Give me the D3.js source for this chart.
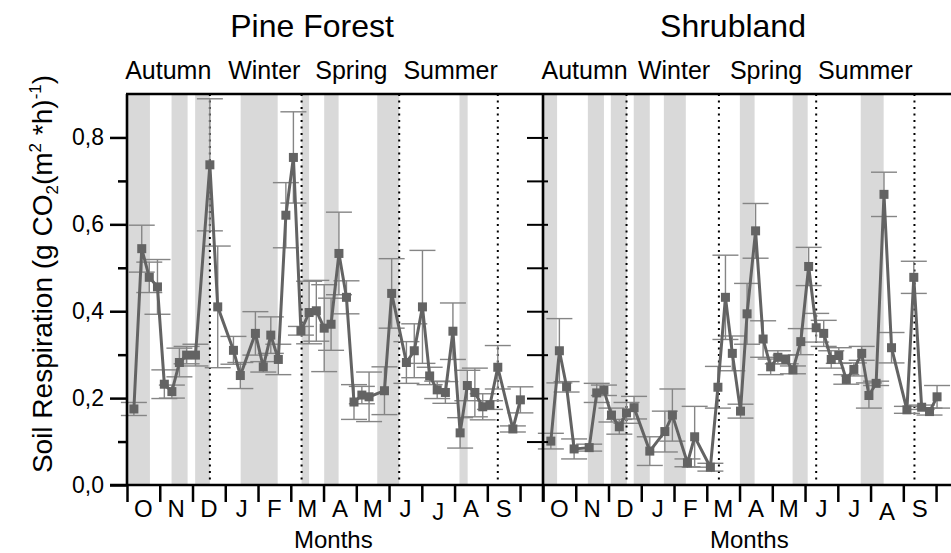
<!DOCTYPE html>
<html>
<head>
<meta charset="utf-8">
<script src="https://cdn.jsdelivr.net/npm/d3@7"></script>
<style>
  body { margin: 0; background: #fff; }
  svg { display: block; font-family: "Liberation Sans", Arial, sans-serif; }
</style>
</head>
<body>
<svg id="chart" width="951" height="553"></svg>
<script>
// Month labels along each panel (October to September)
const monthLabels = ["O", "N", "D", "J", "F", "M", "A", "M", "J", "J", "A", "S"];
const yMajorTicks = [0, 0.2, 0.4, 0.6, 0.8];
const seasonNames = ["Autumn", "Winter", "Spring", "Summer"];
const siteNames = ["Pine Forest", "Shrubland"];

// Sampling dates, expressed in months since 1 October
const pineMonth = [0.21, 0.45, 0.68, 0.93, 1.14, 1.37, 1.60, 1.82, 2.09, 2.53,
  2.77, 3.25, 3.46, 3.92, 4.16, 4.39, 4.62, 4.85, 5.08, 5.31,
  5.56, 5.78, 6.02, 6.23, 6.47, 6.70, 6.93, 7.17, 7.39, 7.86,
  8.08, 8.53, 8.77, 9.02, 9.24, 9.47, 9.72, 9.95, 10.17, 10.39,
  10.62, 10.86, 11.08, 11.32, 11.78, 12.01];
// Soil respiration, g CO2 m-2 h-1
const pineResp = [0.175, 0.544, 0.478, 0.456, 0.232, 0.215, 0.282, 0.299, 0.299, 0.737,
  0.410, 0.310, 0.252, 0.349, 0.272, 0.345, 0.289, 0.621, 0.754, 0.355,
  0.397, 0.401, 0.361, 0.370, 0.533, 0.432, 0.191, 0.207, 0.203, 0.217,
  0.441, 0.282, 0.309, 0.410, 0.251, 0.219, 0.213, 0.354, 0.120, 0.229,
  0.213, 0.180, 0.184, 0.271, 0.129, 0.196];
// Standard error of each mean
const pineErr = [0.015, 0.054, 0.035, 0.063, 0.033, 0.015, 0.033, 0.020, 0.025, 0.152,
  0.140, 0.032, 0.030, 0.050, 0.012, 0.042, 0.035, 0.075, 0.105, 0.010,
  0.072, 0.070, 0.100, 0.060, 0.095, 0.038, 0.040, 0.020, 0.057, 0.055,
  0.080, 0.048, 0.062, 0.130, 0.020, 0.020, 0.025, 0.065, 0.035, 0.035,
  0.056, 0.030, 0.010, 0.050, 0.007, 0.030];

const shrubMonth = [0.24, 0.50, 0.72, 0.95, 1.41, 1.64, 1.86, 2.09, 2.33, 2.55,
  2.78, 3.26, 3.72, 3.95, 4.41, 4.63, 5.11, 5.34, 5.57, 5.78,
  6.03, 6.23, 6.49, 6.72, 6.95, 7.17, 7.41, 7.63, 7.87, 8.11,
  8.34, 8.57, 8.80, 9.03, 9.26, 9.49, 9.73, 9.95, 10.17, 10.41,
  10.64, 11.11, 11.32, 11.56, 11.80, 12.03];
const shrubResp = [0.101, 0.309, 0.226, 0.083, 0.086, 0.212, 0.218, 0.161, 0.134, 0.166,
  0.178, 0.078, 0.123, 0.161, 0.051, 0.111, 0.041, 0.225, 0.432, 0.303,
  0.170, 0.394, 0.585, 0.336, 0.272, 0.294, 0.289, 0.265, 0.330, 0.503,
  0.362, 0.349, 0.289, 0.298, 0.243, 0.266, 0.303, 0.206, 0.234, 0.669,
  0.316, 0.173, 0.478, 0.179, 0.169, 0.203];
const shrubErr = [0.018, 0.074, 0.012, 0.023, 0.008, 0.022, 0.012, 0.016, 0.017, 0.024,
  0.026, 0.033, 0.047, 0.060, 0.009, 0.070, 0.009, 0.048, 0.097, 0.040,
  0.016, 0.070, 0.063, 0.042, 0.018, 0.015, 0.010, 0.009, 0.030, 0.044,
  0.033, 0.030, 0.020, 0.018, 0.011, 0.015, 0.016, 0.029, 0.005, 0.051,
  0.035, 0.008, 0.037, 0.005, 0.008, 0.026];

// Rain periods (start, end in months since 1 October)
const pineRain = [[0.0, 0.70], [1.36, 1.85], [2.08, 2.53], [3.47, 4.60], [5.33, 5.56],
  [6.02, 6.46], [7.64, 8.31], [10.15, 10.40]];
const shrubRain = [[0.0, 0.43], [1.37, 1.86], [2.07, 2.56], [2.77, 3.26], [3.69, 4.36],
  [6.01, 6.46], [7.62, 8.08], [9.70, 10.40]];

// Season boundaries and season label centres (months since 1 October)
const pineSeasonEdges = [2.53, 5.33, 8.31, 11.32];
const shrubSeasonEdges = [2.55, 5.37, 8.34, 11.34];
const pineSeasonCentre = [1.26, 4.19, 6.85, 9.88];
const shrubSeasonCentre = [1.27, 4.0, 6.81, 9.84];

const panels = [
  { name: siteNames[0], month: pineMonth, resp: pineResp, err: pineErr, rain: pineRain,
    edges: pineSeasonEdges, seasonAt: pineSeasonCentre, left: 127, titleAt: 5.65 },
  { name: siteNames[1], month: shrubMonth, resp: shrubResp, err: shrubErr, rain: shrubRain,
    edges: shrubSeasonEdges, seasonAt: shrubSeasonCentre, left: 543, titleAt: 5.8 }
];

const svg = d3.select("#chart");
const panelWidth = 416;
const monthSpan = 12.7;
const y = d3.scaleLinear().domain([0, 0.9]).range([485, 94]);
const fmt = d => d3.format(".1f")(d).replace(".", ",");

const markColor = "#636363";
const errColor = "#858585";

panels.forEach((p, pi) => {
  const x = d3.scaleLinear().domain([0, monthSpan]).range([p.left, p.left + panelWidth]);
  const g = svg.append("g");

  // rain shading
  g.selectAll("rect.rain").data(p.rain).join("rect")
    .attr("class", "rain")
    .attr("x", d => x(d[0]))
    .attr("width", d => x(d[1]) - x(d[0]))
    .attr("y", y(0.9))
    .attr("height", y(0) - y(0.9))
    .attr("fill", "#d9d9d9");

  // season boundaries
  g.selectAll("line.season").data(p.edges).join("line")
    .attr("class", "season")
    .attr("x1", d => x(d)).attr("x2", d => x(d))
    .attr("y1", y(0.9)).attr("y2", y(0))
    .attr("stroke", "#000").attr("stroke-width", 2)
    .attr("stroke-dasharray", "2,4.5");

  const pts = p.month.map((m, i) => ({ m, v: p.resp[i], e: p.err[i] }));

  // error bars
  const eb = g.selectAll("g.err").data(pts).join("g").attr("class", "err")
    .attr("stroke", errColor).attr("stroke-width", 1.4);
  eb.append("line")
    .attr("x1", d => x(d.m)).attr("x2", d => x(d.m))
    .attr("y1", d => y(d.v + d.e)).attr("y2", d => y(d.v - d.e));
  eb.append("line")
    .attr("x1", d => x(d.m) - 13).attr("x2", d => x(d.m) + 13)
    .attr("y1", d => y(d.v + d.e)).attr("y2", d => y(d.v + d.e));
  eb.append("line")
    .attr("x1", d => x(d.m) - 13).attr("x2", d => x(d.m) + 13)
    .attr("y1", d => y(d.v - d.e)).attr("y2", d => y(d.v - d.e));

  // connecting line
  g.append("path").datum(pts)
    .attr("fill", "none").attr("stroke", markColor).attr("stroke-width", 3)
    .attr("stroke-linejoin", "miter")
    .attr("d", d3.line().x(d => x(d.m)).y(d => y(d.v)));

  // square markers
  g.selectAll("rect.pt").data(pts).join("rect")
    .attr("class", "pt")
    .attr("x", d => x(d.m) - 4.5).attr("y", d => y(d.v) - 4.5)
    .attr("width", 9).attr("height", 9)
    .attr("fill", markColor);

  // bottom axis: month boundaries
  const xAxis = d3.axisBottom(x).tickValues(d3.range(0, 13)).tickSize(17).tickFormat("");
  const xa = g.append("g").attr("transform", `translate(0,${y(0)})`).call(xAxis);
  xa.select(".domain").remove();
  xa.selectAll(".tick line").attr("stroke", "#000").attr("stroke-width", 2.5);

  g.selectAll("text.month").data(monthLabels).join("text")
    .attr("class", "month")
    .attr("x", (d, i) => x(i + 0.5))
    .attr("y", (d, i) => 517 + ((pi === 0 && i === 9) || (pi === 1 && i === 10) ? 3 : 0))
    .attr("text-anchor", "middle")
    .attr("font-size", 24)
    .text(d => d);

  // season labels
  g.selectAll("text.seasonlab").data(seasonNames).join("text")
    .attr("class", "seasonlab")
    .attr("x", (d, i) => x(p.seasonAt[i]))
    .attr("y", 79)
    .attr("text-anchor", "middle")
    .attr("font-size", 25)
    .text(d => d);

  // panel title
  g.append("text")
    .attr("x", x(p.titleAt)).attr("y", 37)
    .attr("text-anchor", "middle").attr("font-size", 32)
    .text(p.name);

  // axis title
  g.append("text")
    .attr("x", x(6.3)).attr("y", 548)
    .attr("text-anchor", "middle").attr("font-size", 24)
    .text("Months");

  // inner y ticks on the panel's left edge
  const inner = pi === 0
    ? d3.axisLeft(y).tickValues(d3.range(1, 9).map(d => d / 10)).tickSize(16).tickFormat("")
    : d3.axisRight(y).tickValues(d3.range(1, 9).map(d => d / 10)).tickSize(5).tickFormat("");
  const ia = g.append("g")
    .attr("transform", `translate(${pi === 0 ? p.left + panelWidth : p.left},0)`)
    .call(inner);
  ia.select(".domain").remove();
  ia.selectAll(".tick line").attr("stroke", "#000").attr("stroke-width", 2);
});

// outer y axis
const yAxis = d3.axisLeft(y).tickValues(yMajorTicks).tickSize(17).tickPadding(6).tickFormat(fmt);
const ya = svg.append("g").attr("transform", "translate(127,0)").call(yAxis);
ya.select(".domain").remove();
ya.selectAll(".tick line").attr("stroke", "#000").attr("stroke-width", 2.5);
ya.selectAll(".tick text").attr("font-size", 23).attr("fill", "#000")
  .attr("font-family", "Liberation Sans, Arial, sans-serif");
const yMinor = d3.axisLeft(y).tickValues([0.1, 0.3, 0.5, 0.7]).tickSize(9).tickFormat("");
const ym = svg.append("g").attr("transform", "translate(127,0)").call(yMinor);
ym.select(".domain").remove();
ym.selectAll(".tick line").attr("stroke", "#000").attr("stroke-width", 2.5);

// frame: left edges, shared divider, top edge, baseline
const frame = svg.append("g").attr("stroke", "#000").attr("stroke-width", 2.6);
frame.append("line").attr("x1", 127).attr("x2", 127).attr("y1", y(0.9)).attr("y2", y(0));
frame.append("line").attr("x1", 543).attr("x2", 543).attr("y1", y(0.9)).attr("y2", y(0));
frame.append("line").attr("x1", 126).attr("x2", 951).attr("y1", y(0.9)).attr("y2", y(0.9));
frame.append("line").attr("x1", 110).attr("x2", 951).attr("y1", y(0)).attr("y2", y(0));
frame.append("line").attr("x1", 543).attr("x2", 543).attr("y1", y(0)).attr("y2", y(0) + 17);

// y axis title
const yt = svg.append("text")
  .attr("transform", "translate(52,274) rotate(-90)")
  .attr("text-anchor", "middle").attr("font-size", 28);
yt.append("tspan").text("Soil Respiration (g CO");
yt.append("tspan").attr("font-size", 17).attr("dy", 6).text("2");
yt.append("tspan").attr("dy", -6).text("(m");
yt.append("tspan").attr("font-size", 17).attr("dy", -11).text("2");
yt.append("tspan").attr("dy", 11).text(" *h)");
yt.append("tspan").attr("font-size", 17).attr("dy", -11).text("-1");
yt.append("tspan").attr("dy", 11).text(")");
</script>
</body>
</html>
